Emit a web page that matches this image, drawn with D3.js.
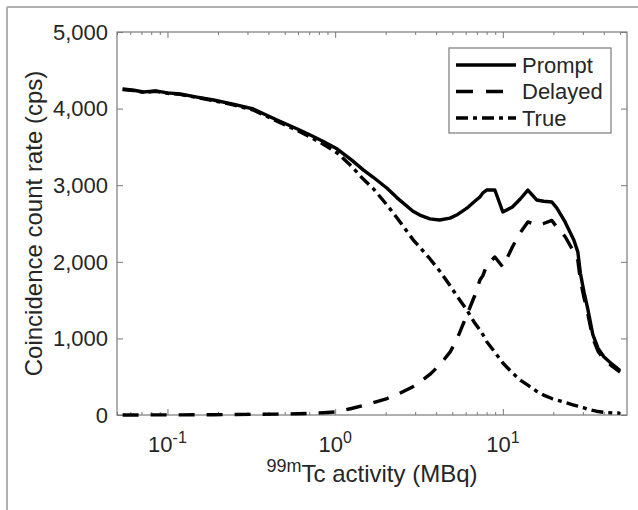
<!DOCTYPE html>
<html>
<head>
<meta charset="utf-8">
<script src="https://cdn.jsdelivr.net/npm/d3@7"></script>
<style>
  html, body { margin: 0; padding: 0; background: #fff; }
  svg { display: block; font-family: "Liberation Sans", Arial, sans-serif; }
</style>
</head>
<body>
<div id="viz"></div>
<script>
// 99mTc activity (MBq), shared by all three curves
const activity = [0.054, 0.063, 0.072, 0.085, 0.1, 0.119, 0.15, 0.188, 0.25, 0.325,
  0.45, 0.6, 0.71, 0.85, 1.03, 1.25, 1.47, 1.68, 2.04, 2.34,
  2.91, 3.2, 3.67, 4.2, 4.84, 5.3, 6.1, 6.8, 7.3, 7.6,
  8.0, 8.96, 10.0, 11.4, 12.7, 14.1, 15.9, 17.5, 19.6, 21,
  23.5, 26.5, 28, 29, 30.5, 32, 34.4, 37, 40, 45, 50];

// coincidence count rates (cps)
const promptRate = [4256, 4240, 4217, 4232, 4205, 4190, 4150, 4112, 4055, 3995,
  3851, 3730, 3655, 3570, 3472, 3330, 3200, 3107, 2960, 2835,
  2660, 2610, 2560, 2546, 2570, 2610, 2700, 2790, 2846, 2900,
  2937, 2937, 2650, 2715, 2820, 2937, 2807, 2790, 2781, 2700,
  2520, 2285, 2130, 1850, 1600, 1400, 1050, 870, 760, 660, 580];

const delayedRate = [0, 0, 1, 1, 2, 2, 3, 4, 6, 8,
  12, 17, 22, 30, 42, 85, 125, 160, 215, 265,
  370, 430, 530, 653, 820, 979, 1305, 1560, 1762, 1820,
  1950, 2063, 1932, 2193, 2380, 2520, 2480, 2500, 2540, 2450,
  2330, 2130, 2020, 1760, 1530, 1340, 1000, 830, 730, 635, 560];

const trueRate = [4250, 4234, 4212, 4226, 4200, 4185, 4145, 4105, 4045, 3982,
  3835, 3710, 3630, 3535, 3420, 3250, 3080, 2960, 2740, 2572,
  2290, 2190, 2040, 1880, 1690, 1560, 1371, 1200, 1110, 1050,
  960, 820, 679, 550, 455, 390, 310, 260, 215, 195,
  165, 130, 115, 105, 92, 78, 60, 45, 35, 28, 25];

const seriesNames = ['Prompt', 'Delayed', 'True'];
const yTicks = [0, 1000, 2000, 3000, 4000, 5000];
const xMajor = [0.1, 1, 10];
const xMajorExp = ['-1', '0', '1'];

const W = 638, H = 510;
const M = { top: 32, right: 11, bottom: 95, left: 117 };
const FONT = 22;
const TITLE_FONT = 24;
const AXIS = '#7a7a7a';
const TEXT = '#262626';

const svg = d3.select('#viz').append('svg')
  .attr('width', W).attr('height', H);

// outer figure frame (only top and left edges visible)
svg.append('line').attr('x1', 7).attr('y1', 7).attr('x2', W).attr('y2', 7)
  .attr('stroke', '#b0b0b0').attr('stroke-width', 2);
svg.append('line').attr('x1', 7).attr('y1', 7).attr('x2', 7).attr('y2', H)
  .attr('stroke', '#b0b0b0').attr('stroke-width', 2);

const x = d3.scaleLog().domain([0.05, 55]).range([M.left, W - M.right]);
const y = d3.scaleLinear().domain([0, 5000]).range([H - M.bottom, M.top]);

// minor log ticks
const xMinor = [];
[0.01, 0.1, 1, 10].forEach((d) => {
  for (let k = 2; k <= 9; k++) {
    const v = d * k;
    if (v >= 0.05 && v <= 55) xMinor.push(v);
  }
});

function styleAxis(g) {
  g.select('.domain').remove();
  g.selectAll('line').attr('stroke', AXIS).attr('stroke-width', 1);
  g.selectAll('text').remove();
}

svg.append('g').attr('transform', `translate(0,${H - M.bottom})`)
  .call(d3.axisBottom(x).tickValues(xMajor).tickSize(-6)).call(styleAxis);
svg.append('g').attr('transform', `translate(0,${H - M.bottom})`)
  .call(d3.axisBottom(x).tickValues(xMinor).tickSize(-3)).call(styleAxis);
svg.append('g').attr('transform', `translate(0,${M.top})`)
  .call(d3.axisTop(x).tickValues(xMajor).tickSize(-6)).call(styleAxis);
svg.append('g').attr('transform', `translate(0,${M.top})`)
  .call(d3.axisTop(x).tickValues(xMinor).tickSize(-3)).call(styleAxis);
svg.append('g').attr('transform', `translate(${M.left},0)`)
  .call(d3.axisLeft(y).tickValues(yTicks).tickSize(-6)).call(styleAxis);
svg.append('g').attr('transform', `translate(${W - M.right},0)`)
  .call(d3.axisRight(y).tickValues(yTicks).tickSize(-6)).call(styleAxis);

// axis box
svg.append('rect')
  .attr('x', M.left).attr('y', M.top)
  .attr('width', W - M.left - M.right).attr('height', H - M.top - M.bottom)
  .attr('fill', 'none').attr('stroke', AXIS).attr('stroke-width', 1.2);

// y tick labels
svg.append('g').selectAll('text').data(yTicks).join('text')
  .attr('x', M.left - 9).attr('y', (d) => y(d))
  .attr('dy', '0.35em').attr('text-anchor', 'end')
  .attr('font-size', FONT).attr('fill', TEXT)
  .text((d) => d3.format(',')(d));

// x tick labels: 10 with superscript exponent
const xl = svg.append('g').selectAll('text').data(xMajor).join('text')
  .attr('x', (d) => x(d)).attr('y', H - M.bottom + 37)
  .attr('text-anchor', 'middle')
  .attr('font-size', FONT).attr('fill', TEXT);
xl.append('tspan').text('10');
xl.append('tspan').attr('dy', -9).attr('font-size', 16)
  .text((d, i) => xMajorExp[i]);

// axis titles
const xt = svg.append('text')
  .attr('x', (M.left + W - M.right) / 2).attr('y', 482)
  .attr('text-anchor', 'middle').attr('font-size', TITLE_FONT).attr('fill', TEXT);
xt.append('tspan').attr('dy', -10).attr('font-size', 18).text('99m');
xt.append('tspan').attr('dy', 10).text('Tc activity (MBq)');

svg.append('text')
  .attr('transform', `translate(42,${(M.top + H - M.bottom) / 2}) rotate(-90)`)
  .attr('text-anchor', 'middle').attr('font-size', TITLE_FONT).attr('fill', TEXT)
  .text('Coincidence count rate (cps)');

// curves
const dashes = ['none', '16,12', '12,5,4,5'];
const series = [promptRate, delayedRate, trueRate];
const line = d3.line().x((d) => x(d[0])).y((d) => y(d[1]));

svg.append('g').selectAll('path').data(series).join('path')
  .attr('d', (s) => line(activity.map((a, i) => [a, s[i]])))
  .attr('fill', 'none').attr('stroke', '#000').attr('stroke-width', 3.4)
  .attr('stroke-linejoin', 'round')
  .attr('stroke-dasharray', (s, i) => dashes[i]);

// legend
const lg = svg.append('g');
lg.append('rect').attr('x', 449).attr('y', 48).attr('width', 162).attr('height', 85)
  .attr('fill', '#fff').attr('stroke', AXIS).attr('stroke-width', 1.2);
const rows = lg.selectAll('g').data(seriesNames).join('g')
  .attr('transform', (d, i) => `translate(0,${65 + i * 26.5})`);
rows.append('line').attr('x1', 456).attr('x2', 516).attr('y1', 0).attr('y2', 0)
  .attr('stroke', '#000').attr('stroke-width', 3.4)
  .attr('stroke-dasharray', (d, i) => (i === 1 ? '17,13' : dashes[i]));
rows.append('text').attr('x', 522).attr('dy', '0.35em')
  .attr('font-size', FONT).attr('fill', TEXT).text((d) => d);
</script>
</body>
</html>
